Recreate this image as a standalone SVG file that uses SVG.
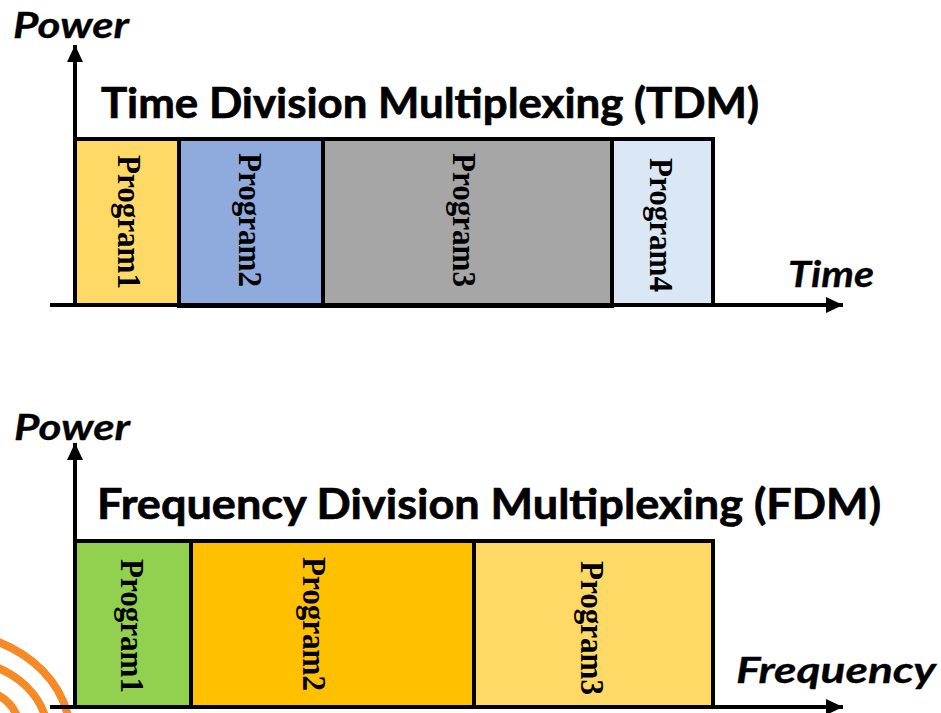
<svg xmlns="http://www.w3.org/2000/svg" width="941" height="713" viewBox="0 0 941 713">
<style>
.box{stroke:#000;stroke-width:4}
.axis{stroke:#000;stroke-width:4;fill:none}
.prog{font-family:"Liberation Serif",serif;font-weight:700;font-size:34px;fill:#000}
.title{font-family:"Lato","Liberation Sans",sans-serif;font-weight:700;font-size:42px;fill:#000;stroke:#000;stroke-width:.7}
.lab{font-family:"Lato","Liberation Sans",sans-serif;font-weight:700;font-style:italic;font-size:36px;fill:#000;stroke:#000;stroke-width:.3}
.arc{fill:none;stroke:#f58a27;stroke-width:8}
</style>
<defs>
<marker id="ah" markerUnits="userSpaceOnUse" markerWidth="18" markerHeight="16" refX="17" refY="8" orient="auto"><path d="M0 0L17 8L0 16Z" fill="#000"/></marker>
</defs>
<g id="logo">
<path class="arc" d="M-4 641C33 655 60 682 68 716"/>
<path class="arc" d="M-4 667C20 677 38 694 45 716"/>
<path class="arc" d="M-4 694C6 699 13 706 17 716"/>
</g>
<g id="tdm-p1"><rect class="box" x="75" y="139" width="104" height="166" fill="#ffd966"/><text class="prog" transform="translate(118,155) rotate(90)" textLength="134" lengthAdjust="spacingAndGlyphs">Program1</text></g>
<g id="tdm-p2"><rect class="box" x="179" y="139" width="144" height="167" fill="#8faadc"/><text class="prog" transform="translate(239,153) rotate(90)" textLength="134" lengthAdjust="spacingAndGlyphs">Program2</text></g>
<g id="tdm-p3"><rect class="box" x="323" y="139" width="289" height="167" fill="#a6a6a6"/><text class="prog" transform="translate(453,153) rotate(90)" textLength="134" lengthAdjust="spacingAndGlyphs">Program3</text></g>
<g id="tdm-p4"><rect class="box" x="612" y="139" width="101" height="166" fill="#dae7f5"/><text class="prog" transform="translate(650,158) rotate(90)" textLength="134" lengthAdjust="spacingAndGlyphs">Program4</text></g>
<g id="fdm-p1"><rect class="box" x="75" y="541" width="116" height="166" fill="#92d050"/><text class="prog" transform="translate(121,559) rotate(90)" textLength="134" lengthAdjust="spacingAndGlyphs">Program1</text></g>
<g id="fdm-p2"><rect class="box" x="191" y="541" width="283" height="166" fill="#ffc000"/><text class="prog" transform="translate(303,557) rotate(90)" textLength="134" lengthAdjust="spacingAndGlyphs">Program2</text></g>
<g id="fdm-p3"><rect class="box" x="474" y="541" width="239" height="166" fill="#ffd966"/><text class="prog" transform="translate(581,561) rotate(90)" textLength="134" lengthAdjust="spacingAndGlyphs">Program3</text></g>
<g id="connectors">
<path class="axis" d="M75 305V45" marker-end="url(#ah)"/>
<path class="axis" d="M50 305H843" marker-end="url(#ah)"/>
<path class="axis" d="M75 707V443" marker-end="url(#ah)"/>
<path class="axis" d="M50 707H843" marker-end="url(#ah)"/>
</g>
<g id="labels">
<text class="lab" x="13" y="38" textLength="116" lengthAdjust="spacingAndGlyphs">Power</text>
<text class="title" x="101" y="118" textLength="658" lengthAdjust="spacingAndGlyphs">Time Division Multiplexing (TDM)</text>
<text class="lab" x="788" y="287" textLength="86" lengthAdjust="spacingAndGlyphs">Time</text>
<text class="lab" x="14" y="440" textLength="116" lengthAdjust="spacingAndGlyphs">Power</text>
<text class="title" x="97" y="519" textLength="784" lengthAdjust="spacingAndGlyphs">Frequency Division Multiplexing (FDM)</text>
<text class="lab" x="736" y="683" textLength="200" lengthAdjust="spacingAndGlyphs">Frequency</text>
</g>
</svg>
